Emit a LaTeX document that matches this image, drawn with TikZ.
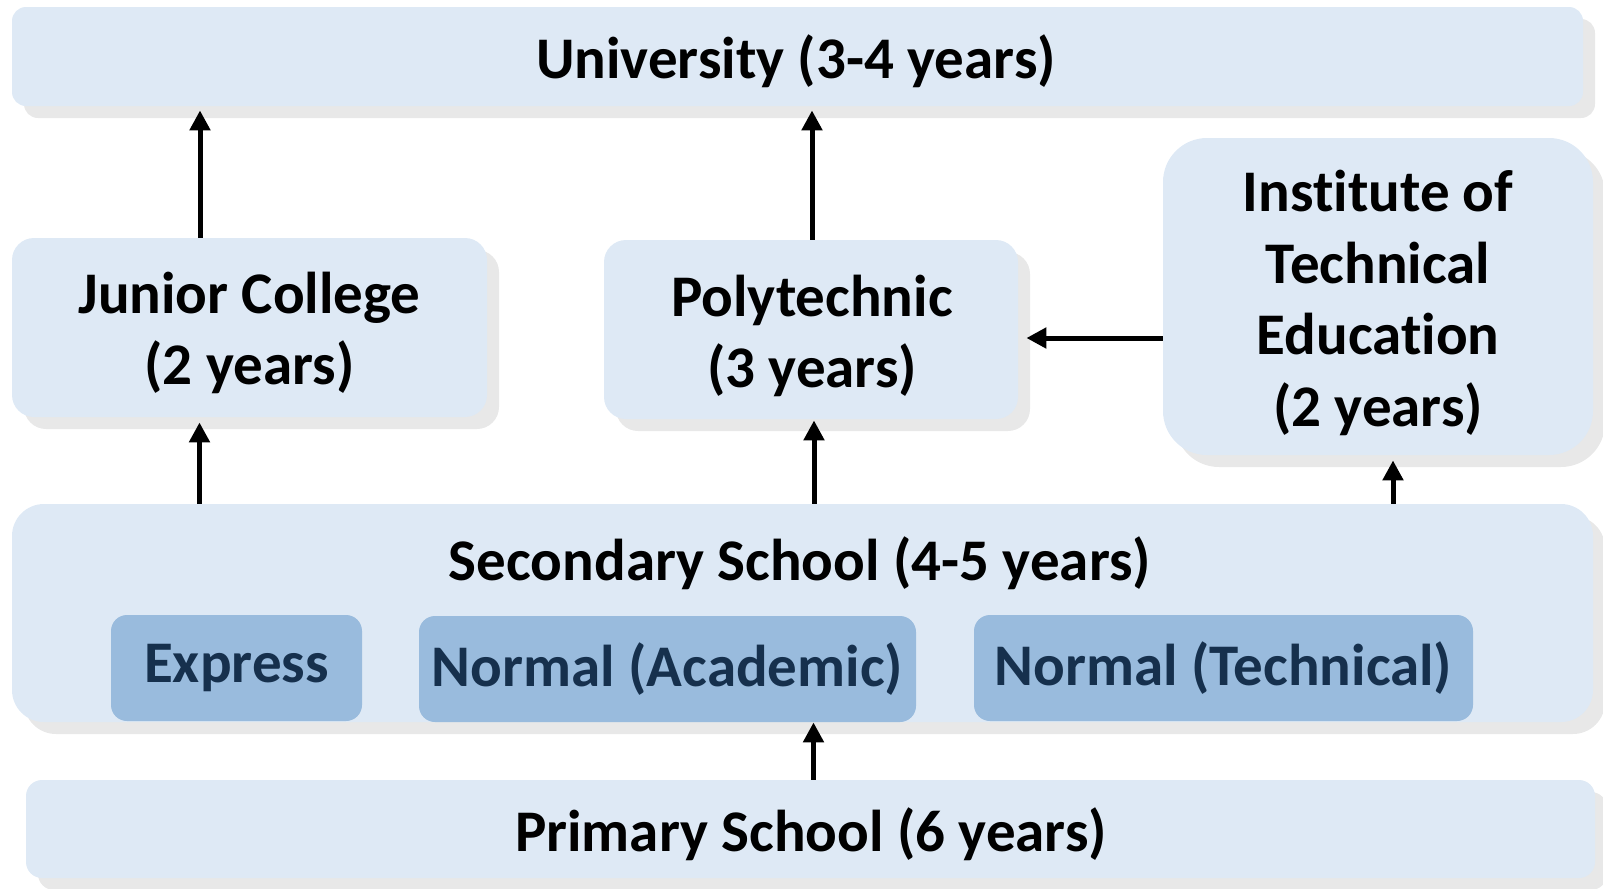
\documentclass[tikz,border=0pt]{standalone}
\usepackage{fontspec}
\setmainfont{Carlito}[Ligatures=NoCommon]
\usetikzlibrary{arrows.meta,shadows}
\definecolor{boxfill}{HTML}{DEE9F5}
\definecolor{subfill}{HTML}{99BBDD}
\definecolor{subtext}{HTML}{16304D}
\definecolor{shade}{HTML}{E8E8E8}
\tikzset{
  box/.style={fill=boxfill, draw=none, inner sep=0pt,
    drop shadow={shadow xshift=6pt, shadow yshift=-6pt, fill=shade, opacity=1}},
  lbl/.style={align=center, inner sep=0pt, font=\fontsize{29.5}{35.75}\selectfont\bfseries},
  subbox/.style={fill=subfill, draw=none, align=center, inner sep=0pt, rounded corners=8pt,
    text=subtext, font=\fontsize{29.5}{35.75}\selectfont\bfseries,
    minimum height=53pt},
  arr/.style={line width=2.5pt, -{Triangle[length=10pt,width=10pt]}}
}
\begin{document}
\begin{tikzpicture}[x=0.5pt,y=-0.5pt]
\useasboundingbox (0,0) rectangle (1603,889);
% boxes
\node[box, rounded corners=7pt, minimum width=785.5pt, minimum height=49.5pt] (univ) at (797.5,56.5) {};
\node[box, rounded corners=11pt, minimum width=237.5pt, minimum height=89.5pt] (jc) at (249.5,327.5) {};
\node[box, rounded corners=11pt, minimum width=207pt, minimum height=89.5pt] (poly) at (811,329.5) {};
\node[box, rounded corners=22pt, minimum width=215pt, minimum height=158.5pt] (ite) at (1378,296.5) {};
\node[box, rounded corners=16pt, minimum width=790.5pt, minimum height=109pt] (sec) at (802.5,613) {};
\node[subbox, minimum width=125.5pt] (exp) at (236.5,668) {Express};
\node[subbox, minimum width=248.5pt] (na) at (667.5,669) {Normal (Academic)};
\node[subbox, minimum width=249.5pt] (nt) at (1223.5,668) {Normal (Technical)};
\node[box, rounded corners=8pt, minimum width=784.5pt, minimum height=49pt] (prim) at (810.5,829) {};
% texts
\node[lbl] (univt) at (796,61) {University (3-4 years)};
\node[lbl] (jct) at (249.5,333) {Junior College\\(2 years)};
\node[lbl] (polyt) at (812,336) {Polytechnic\\(3 years)};
\node[lbl] (itet) at (1378,303) {Institute of\\Technical\\Education\\(2 years)};
\node[lbl] (sect) at (800,563) {Secondary School (4-5 years)};
\node[lbl] (primt) at (811,834) {Primary School (6 years)};
% arrows
\draw[arr, shorten >=2pt] ([xshift=-24.75pt]jc.north) -- ([xshift=-24.75pt]jc.north |- univ.south);
\draw[arr, shorten >=2.5pt] ([xshift=-25pt]jc.south |- sec.north) -- ([xshift=-25pt]jc.south);
\draw[arr, shorten >=2pt] ([xshift=0.5pt]poly.north) -- ([xshift=0.5pt]poly.north |- univ.south);
\draw[arr, shorten >=0.5pt] ([xshift=1.5pt]poly.south |- sec.north) -- ([xshift=1.5pt]poly.south);
\draw[arr, shorten >=4pt] ([yshift=-20.75pt]ite.west) -- ([yshift=-20.75pt]ite.west -| poly.east);
\draw[arr, shorten >=2.5pt] ([xshift=7.5pt]ite.south |- sec.north) -- ([xshift=7.5pt]ite.south);
\draw[arr] ([xshift=1.5pt]prim.north) -- ([xshift=1.5pt]prim.north |- sec.south);
\end{tikzpicture}
\end{document}
